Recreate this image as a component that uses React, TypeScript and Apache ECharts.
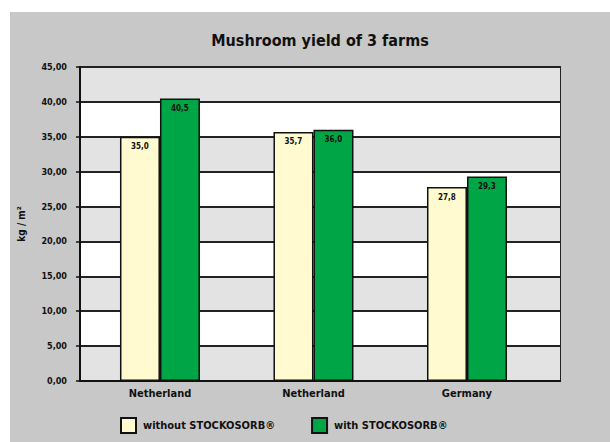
import React, { useEffect, useRef } from "react";
import * as echarts from "echarts";

const title = "Mushroom yield of 3 farms";
const categories = ["Netherland", "Netherland", "Germany"];
const seriesNames = ["without STOCKOSORB®", "with STOCKOSORB®"];
const withoutValues = [35.0, 35.7, 27.8];
const withValues = [40.5, 36.0, 29.3];
const yAxisName = "kg / m²";

const FONT = "'DejaVu Sans Condensed', 'Liberation Sans Narrow', sans-serif";

export default function App() {
  const ref = useRef<HTMLDivElement>(null);
  useEffect(() => {
    document.body.style.margin = "0";
    if (!ref.current) return;
    const chart = echarts.init(ref.current, null, { renderer: "svg" });
    const fmt1 = (v: number) => v.toFixed(1).replace(".", ",");
    const barLabel = {
      show: true,
      position: "insideTop" as const,
      distance: 6,
      fontSize: 8,
      fontWeight: "bold" as const,
      color: "#111",
      fontFamily: FONT,
      formatter: (p: any) => fmt1(p.value[1]),
    };
    chart.setOption({
      animation: false,
      backgroundColor: "#ffffff",
      graphic: [
        {
          type: "rect",
          z: -100,
          silent: true,
          shape: { x: 10, y: 12, width: 600, height: 430 },
          style: { fill: "#c8c8c8" },
        },
      ],
      title: {
        text: title,
        left: 315,
        textAlign: "center",
        top: 27,
        textStyle: { fontSize: 16, fontWeight: "bold", color: "#111", fontFamily: FONT },
      },
      legend: {
        left: 115,
        top: 412,
        itemWidth: 15,
        itemHeight: 15,
        itemGap: 36,
        icon: "rect",
        textStyle: { fontSize: 11, fontWeight: "bold", color: "#111", fontFamily: FONT, padding: [0, 0, 0, 2] },
        data: seriesNames,
      },
      grid: {
        left: 80,
        top: 67,
        width: 480,
        height: 314,
        show: true,
        borderColor: "#222",
        borderWidth: 2,
        backgroundColor: "transparent",
      },
      xAxis: {
        type: "value",
        min: 0.479,
        max: 3.606,
        splitLine: { show: false },
        axisLine: { show: true, onZero: false, lineStyle: { color: "#111", width: 2 } },
        axisTick: { show: false },
        axisLabel: {
          customValues: [1, 2, 3],
          formatter: (v: number) => categories[Math.round(v) - 1] ?? "",
          fontSize: 11,
          fontWeight: "bold",
          color: "#111",
          fontFamily: FONT,
          margin: 7,
        },
      },
      yAxis: {
        type: "value",
        min: 0,
        max: 45,
        interval: 5,
        name: yAxisName,
        nameLocation: "middle",
        nameGap: 54,
        nameTextStyle: { fontSize: 10, fontWeight: "bold", color: "#111", fontFamily: FONT },
        axisLine: { show: true, lineStyle: { color: "#111", width: 2 } },
        axisTick: { show: true, length: 4, lineStyle: { color: "#111", width: 1.5 } },
        axisLabel: {
          formatter: (v: number) => v.toFixed(2).replace(".", ","),
          fontSize: 9,
          fontWeight: "bold",
          color: "#111",
          fontFamily: FONT,
          margin: 13,
        },
        splitLine: { show: true, lineStyle: { color: "#222", width: 2 } },
        splitArea: { show: true, areaStyle: { color: ["#e3e3e3", "#ffffff"] } },
      },
      series: [
        {
          name: seriesNames[0],
          type: "bar",
          barWidth: 40,
          barGap: "0%",
          data: categories.map((_, i) => [i + 1, withoutValues[i]]),
          itemStyle: { color: "#fffad0", borderColor: "#111", borderWidth: 1.5 },
          label: barLabel,
        },
        {
          name: seriesNames[1],
          type: "bar",
          barWidth: 40,
          barGap: "0%",
          data: categories.map((_, i) => [i + 1, withValues[i]]),
          itemStyle: { color: "#00a546", borderColor: "#111", borderWidth: 1.5 },
          label: barLabel,
        },
      ],
    });
    return () => chart.dispose();
  }, []);
  return <div ref={ref} style={{ width: 610, height: 442 }} />;
}
